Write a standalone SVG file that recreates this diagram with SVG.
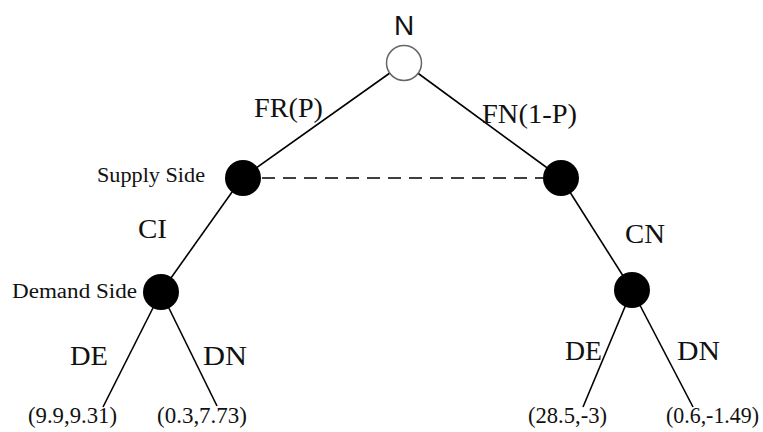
<svg xmlns="http://www.w3.org/2000/svg" width="763" height="432" viewBox="0 0 763 432">
<style>
.e{stroke:#000;stroke-width:1.6;fill:none}
.d{stroke:#000;stroke-width:1.6;stroke-dasharray:13,8;fill:none}
.dec{fill:#000}
.t{font-family:"Liberation Serif","Times New Roman",serif;fill:#111}
.b{font-size:26.5px}
.s{font-size:20.5px}
.p{font-size:22.5px}
</style>
<rect width="763" height="432" fill="#fff"/>
<g id="connectors">
<line class="e" x1="404" y1="63" x2="242" y2="178"/>
<line class="e" x1="404" y1="63" x2="561" y2="178"/>
<line class="d" x1="262" y1="178" x2="545" y2="178"/>
<line class="e" x1="242" y1="178" x2="161" y2="292"/>
<line class="e" x1="561" y1="178" x2="632" y2="290"/>
<line class="e" x1="161" y1="292" x2="103" y2="407"/>
<line class="e" x1="161" y1="292" x2="217" y2="406"/>
<line class="e" x1="632" y1="290" x2="583" y2="407"/>
<line class="e" x1="632" y1="290" x2="693" y2="407"/>
</g>
<g id="labels">
<text class="t b" x="254" y="117" textLength="69" lengthAdjust="spacingAndGlyphs">FR(P)</text>
<text class="t b" x="482" y="123" textLength="95" lengthAdjust="spacingAndGlyphs">FN(1-P)</text>
<text class="t b" x="138" y="238" textLength="29" lengthAdjust="spacingAndGlyphs">CI</text>
<text class="t b" x="625" y="243" textLength="40" lengthAdjust="spacingAndGlyphs">CN</text>
<text class="t b" x="70" y="365" textLength="38" lengthAdjust="spacingAndGlyphs">DE</text>
<text class="t b" x="203" y="365" textLength="44" lengthAdjust="spacingAndGlyphs">DN</text>
<text class="t b" x="565" y="360" textLength="37" lengthAdjust="spacingAndGlyphs">DE</text>
<text class="t b" x="677" y="360" textLength="43" lengthAdjust="spacingAndGlyphs">DN</text>
</g>
<g id="nodeN">
<circle cx="404" cy="63" r="17.5" fill="#fff" stroke="#666" stroke-width="1.5"/>
<text x="404" y="35" text-anchor="middle" font-family="Liberation Sans, Arial, sans-serif" font-size="28" fill="#111">N</text>
</g>
<g id="supplyLeft">
<circle class="dec" cx="243" cy="178" r="18"/>
<text class="t s" x="97" y="182" textLength="108" lengthAdjust="spacingAndGlyphs">Supply Side</text>
</g>
<g id="supplyRight">
<circle class="dec" cx="561" cy="178" r="18"/>
</g>
<g id="demandLeft">
<circle class="dec" cx="161" cy="292" r="18"/>
<text class="t s" x="12" y="298" textLength="125" lengthAdjust="spacingAndGlyphs">Demand  Side</text>
</g>
<g id="demandRight">
<circle class="dec" cx="632" cy="290" r="18"/>
</g>
<g id="leaf1"><text class="t p" x="28" y="423" textLength="89" lengthAdjust="spacingAndGlyphs">(9.9,9.31)</text></g>
<g id="leaf2"><text class="t p" x="157" y="423" textLength="90" lengthAdjust="spacingAndGlyphs">(0.3,7.73)</text></g>
<g id="leaf3"><text class="t p" x="528" y="423" textLength="79" lengthAdjust="spacingAndGlyphs">(28.5,-3)</text></g>
<g id="leaf4"><text class="t p" x="666" y="423" textLength="93" lengthAdjust="spacingAndGlyphs">(0.6,-1.49)</text></g>
</svg>
